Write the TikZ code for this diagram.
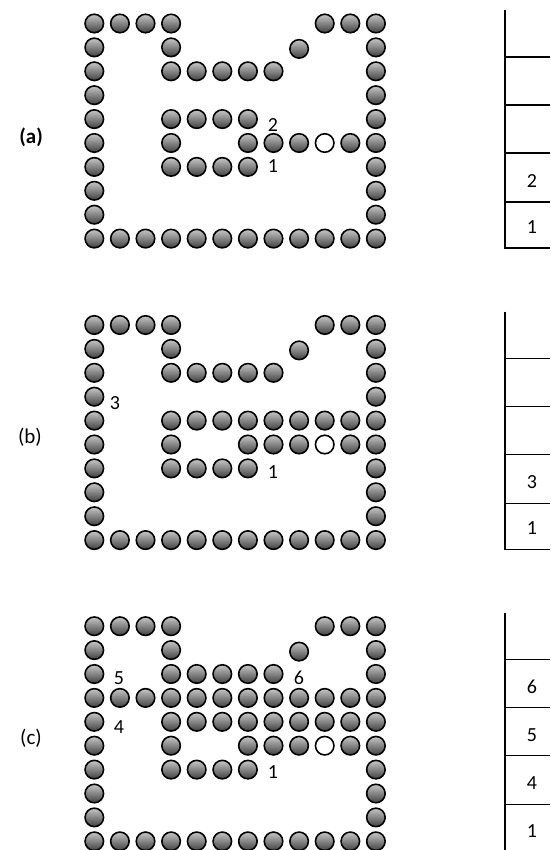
\documentclass[tikz,border=0pt]{standalone}
\usepackage{fontspec}
\setmainfont{Carlito}
\newcommand\drawpanel[2]{%
  \foreach \r/\c in {0/0,0/1,0/2,0/3,0/9,0/10,0/11,1/0,1/3,1/11,2/0,2/3,2/4,2/5,2/6,2/7,2/11,3/0,3/11,4/0,4/3,4/4,4/5,4/6,4/11,5/0,5/3,5/6,5/7,5/8,5/10,5/11,6/0,6/3,6/4,6/5,6/6,6/11,7/0,7/11,8/0,8/11,9/0,9/1,9/2,9/3,9/4,9/5,9/6,9/7,9/8,9/9,9/10,9/11}{%
    \node[ball] (#1-\r-\c) at ({94.3+25.6*\c},{#2+23.5+23.9*\r}) {};}
  \node[ball] (#1-1-8) at ({94.3+25.6*8},{#2+23.5+23.9+1.5}) {};
  \node[hole] (#1-5-9) at ({94.3+25.6*9},{#2+23.5+23.9*5}) {};
}
\begin{document}
\begin{tikzpicture}[x=1pt,y=-1pt,
  ball/.style={circle,draw=black,line width=1.6pt,minimum size=18.5pt,inner sep=0pt,top color=black!22,bottom color=black!75},
  hole/.style={circle,draw=black,line width=1.6pt,minimum size=18.5pt,inner sep=0pt,fill=white},
  lbl/.style={font=\fontsize{20}{24}\selectfont,inner sep=0pt},
  plbl/.style={font=\fontsize{21}{25}\selectfont,inner sep=0pt,anchor=east},
  post/.style={line width=2pt},
  shelf/.style={line width=1.5pt}]
\useasboundingbox (0,0) rectangle (550,850);
% panel (a)
\drawpanel{a}{0}
\node[lbl] (a-l2) at (273,125) {2};
\node[lbl] (a-l1) at (273,166) {1};
\node[plbl,font=\fontsize{21}{25}\selectfont\bfseries] (la) at (43,137) {(a)};
% panel (b)
\drawpanel{b}{301.5}
\foreach \c in {7,8,9,10}{\node[ball] (b-4-\c) at ({94.3+25.6*\c},{301.5+23.5+23.9*4}) {};}
\node[lbl] (b-l3) at (115,403) {3};
\node[lbl] (b-l1) at (273,472) {1};
\node[plbl] (lb) at (42,437) {(b)};
% panel (c)
\drawpanel{c}{602.7}
\foreach \c in {7,8,9,10}{\node[ball] (c-4-\c) at ({94.3+25.6*\c},{602.7+23.5+23.9*4}) {};}
\foreach \c in {1,...,10}{\node[ball] (c-3-\c) at ({94.3+25.6*\c},{602.7+23.5+23.9*3}) {};}
\node[lbl] (c-l5) at (119,678) {5};
\node[lbl] (c-l6) at (299,678) {6};
\node[lbl] (c-l4) at (119,727) {4};
\node[lbl] (c-l1) at (273,772) {1};
\node[plbl] (lc) at (42,738) {(c)};
% stacks
\foreach \o/\n in {0/a,301.5/b,602.7/c}{
  \coordinate (s\n-top) at (505,{\o+10});
  \coordinate (s\n-bot) at (505,{\o+248});
  \draw[post] (s\n-top) -- (s\n-bot);
  \foreach \y in {57,105,153,202,248}{\draw[shelf] (504,{\o+\y}) -- (550,{\o+\y});}
}
\node[lbl] (sa2) at (532,181) {2};
\node[lbl] (sa1) at (532,227) {1};
\node[lbl] (sb3) at (532,482) {3};
\node[lbl] (sb1) at (532,528) {1};
\node[lbl] (sc6) at (532,687) {6};
\node[lbl] (sc5) at (532,735) {5};
\node[lbl] (sc4) at (532,783) {4};
\node[lbl] (sc1) at (532,831) {1};
\end{tikzpicture}
\end{document}
